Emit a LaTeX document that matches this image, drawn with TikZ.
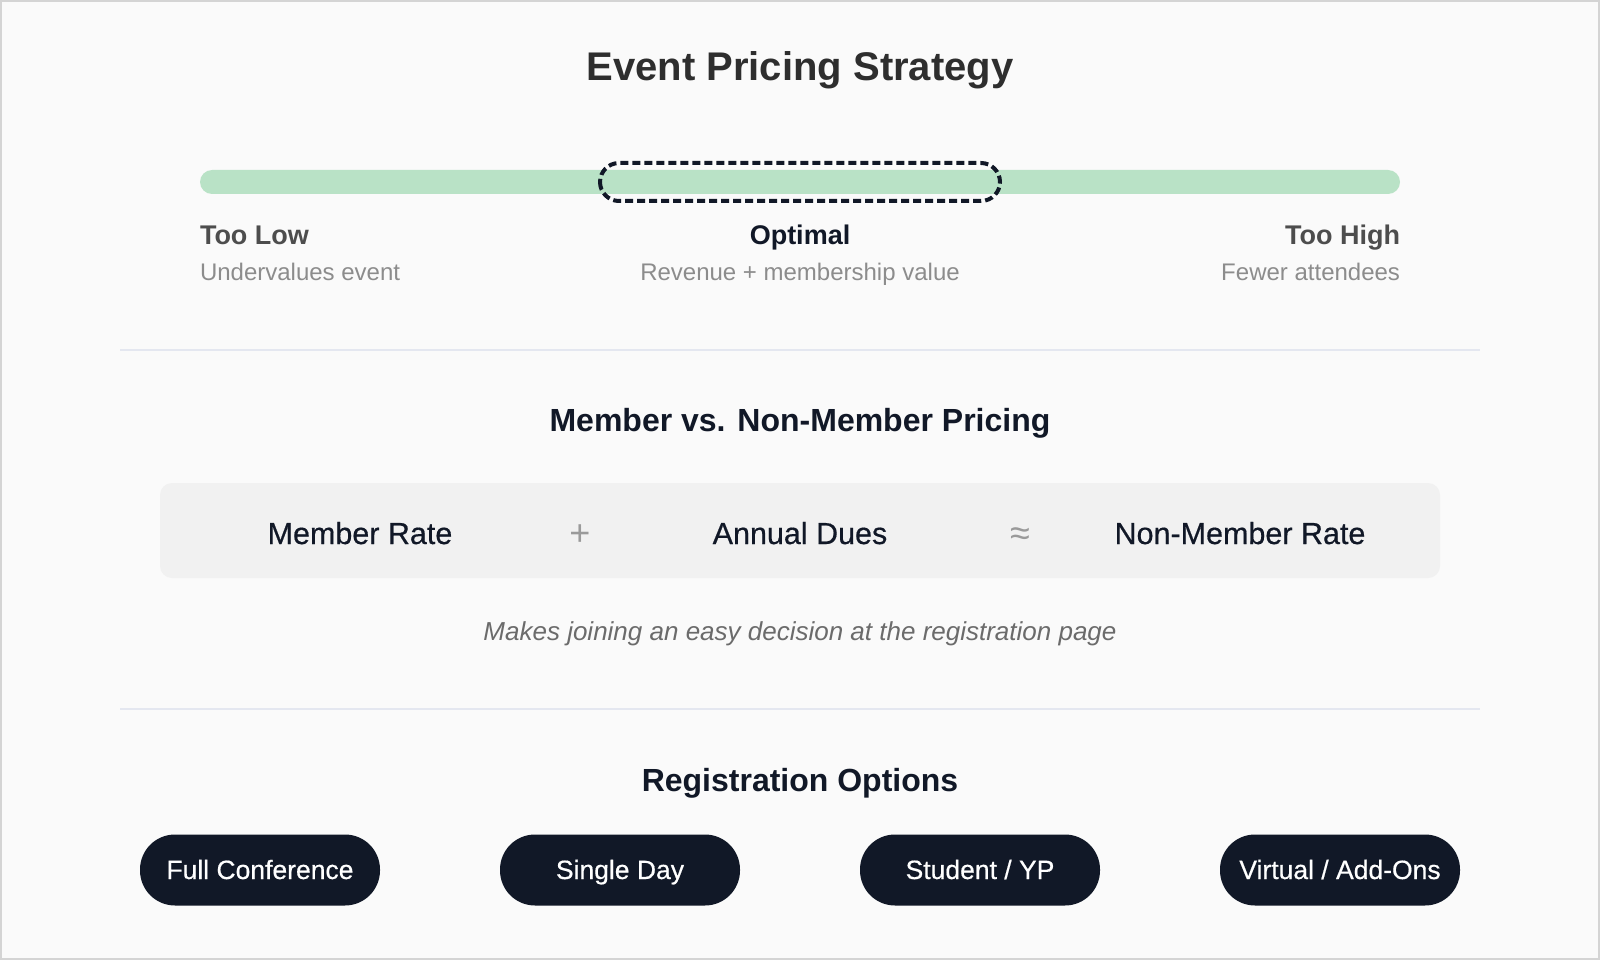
\documentclass[tikz,border=0pt]{standalone}
\usepackage{fontspec}
\setmainfont{Liberation Sans}
\newfontfamily\medfont{Liberation Sans}[FakeBold=0.5]
\definecolor{bg}{HTML}{FAFAFA}
\definecolor{framec}{HTML}{D4D4D4}
\definecolor{navy}{HTML}{111827}
\definecolor{barg}{HTML}{B9E2C6}
\definecolor{labgray}{HTML}{4D4D4D}
\definecolor{subgray}{HTML}{8C8C8C}
\definecolor{boxgray}{HTML}{F1F1F1}
\definecolor{rulec}{HTML}{E4E7F0}
\definecolor{symgray}{HTML}{9A9A9A}
\definecolor{capgray}{HTML}{6B6B6B}
\definecolor{titlec}{HTML}{2E2E2E}
\newcommand{\fs}[1]{\fontsize{#1}{#1}\selectfont}
\tikzset{
  txt/.style={inner sep=0pt, outer sep=0pt},
  maintitle/.style={txt, anchor=base, text=titlec, font=\fs{40}\bfseries},
  sechead/.style={txt, anchor=base, text=navy, font=\fs{32}\bfseries},
  barlab/.style={txt, text=labgray, font=\fs{27}\bfseries},
  barsub/.style={txt, text=subgray, font=\fs{24}},
  eqterm/.style={txt, anchor=base, text=navy, font=\medfont\fs{30.5}},
  eqsym/.style={txt, anchor=center, text=symgray, font=\fs{36}},
  pill/.style={fill=navy, rounded corners=35pt, minimum width=240pt, minimum height=71pt, inner sep=0pt},
  pilltext/.style={txt, anchor=base, text=white, font=\medfont\fs{26.5}},
  divider/.style={draw=rulec, line width=2pt},
}
\begin{document}
\begin{tikzpicture}[x=1pt,y=-1pt]
\fill[bg] (0,0) rectangle (1600,960);
\draw[framec, line width=2pt] (1,1) rectangle (1599,959);
\useasboundingbox (0,0) rectangle (1600,960);

\node[maintitle] (title) at (800,81) {Event Pricing Strategy};

% spectrum bar
\fill[barg, rounded corners=12pt] (200,170) rectangle (1400,194);
\draw[navy, line width=4pt, dash pattern=on 8pt off 4pt, rounded corners=19pt] (600,163) rectangle (1000,201);

\node[barlab, anchor=base west] (low) at (200,244) {Too Low};
\node[barsub, anchor=base west] (lowsub) at (200,280) {Undervalues event};
\node[barlab, anchor=base, text=navy] (opt) at (800,244) {Optimal};
\node[barsub, anchor=base] (optsub) at (800,280) {Revenue + membership value};
\node[barlab, anchor=base east] (high) at (1400,244) {Too High};
\node[barsub, anchor=base east] (highsub) at (1400,280) {Fewer attendees};

\draw[divider] (120,350) -- (1480,350);

\node[sechead] (h2) at (800,431) {Member vs. Non-Member Pricing};

\fill[boxgray, rounded corners=12pt] (160,483) rectangle (1440,578);
\node[eqterm] (mr) at (360,544) {Member Rate};
\node[eqsym] (plus) at (580,535) {+};
\node[eqterm] (ad) at (800,544) {Annual Dues};
\node[eqsym] (approx) at (1020,537) {≈};
\node[eqterm] (nmr) at (1240,544) {Non-Member Rate};

\node[txt, anchor=base, text=capgray, font=\fs{26}\itshape] (cap) at (800,640) {Makes joining an easy decision at the registration page};

\draw[divider] (120,709) -- (1480,709);

\node[sechead] (h3) at (800,791) {Registration Options};

\node[pill] (p1) at (260,870) {};
\node[pill] (p2) at (620,870) {};
\node[pill] (p3) at (980,870) {};
\node[pill] (p4) at (1340,870) {};
\node[pilltext] at (260,879) {Full Conference};
\node[pilltext] at (620,879) {Single Day};
\node[pilltext] at (980,879) {Student / YP};
\node[pilltext] at (1340,879) {Virtual / Add-Ons};
\end{tikzpicture}
\end{document}
